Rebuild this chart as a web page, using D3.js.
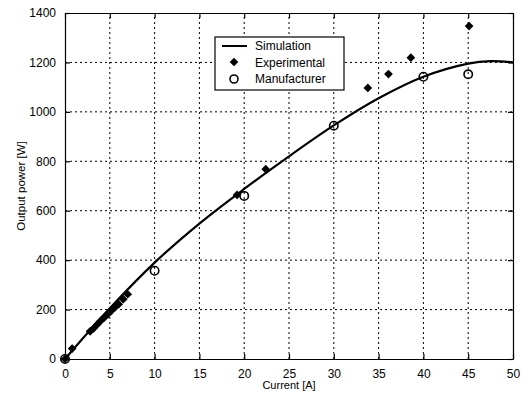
<!DOCTYPE html>
<html>
<head>
<meta charset="utf-8">
<script src="https://cdn.jsdelivr.net/npm/d3@7"></script>
<style>
	body { margin: 0; background: #fff; }
	text { font-family: 'Liberation Sans', Arial, sans-serif; fill: #000; }
	.grid line { stroke: #000; stroke-width: 1; stroke-dasharray: 2 3; }
</style>
</head>
<body>
<script>
const xTicks = [0, 5, 10, 15, 20, 25, 30, 35, 40, 45, 50]
const yTicks = [0, 200, 400, 600, 800, 1000, 1200, 1400]

// simulation curve
const simCurrent = [0, 5, 10, 15, 20, 25, 30, 35, 40, 45, 47.5, 50]
const simPower   = [0, 205, 390, 548, 688, 820, 945, 1055, 1142, 1195, 1205, 1200]

const expCurrent = [0, 0.8, 2.8, 3.2, 3.6, 4.0, 4.4, 4.8, 5.2, 5.6, 6.0, 6.5, 7.0, 19.2, 22.4, 33.8, 36.1, 38.6, 45.1]
const expPower   = [0, 42, 112, 124, 140, 155, 168, 182, 196, 210, 222, 242, 262, 664, 768, 1097, 1153, 1219, 1347]

const manCurrent = [0, 10, 20, 30, 40, 45]
const manPower   = [0, 357, 660, 944, 1142, 1152]

const W = 530, H = 398
const m = {top: 13, right: 17, bottom: 39, left: 65}

const svg = d3.select('body').append('svg')
	.attr('width', W)
	.attr('height', H)

const x = d3.scaleLinear().domain([0, 50]).range([m.left, W - m.right])
const y = d3.scaleLinear().domain([0, 1400]).range([H - m.bottom, m.top])

// grid
const grid = svg.append('g').attr('class', 'grid')
grid.selectAll('line.v')
	.data(xTicks.slice(1, -1))
	.enter().append('line')
	.attr('x1', d => x(d)).attr('x2', d => x(d))
	.attr('y1', y(0)).attr('y2', y(1400))
grid.selectAll('line.h')
	.data(yTicks.slice(1, -1))
	.enter().append('line')
	.attr('y1', d => y(d)).attr('y2', d => y(d))
	.attr('x1', x(0)).attr('x2', x(50))

// axes, ticks pointing inward
const fmt = d3.format('d')
const axes = [
	[d3.axisBottom(x), `translate(0,${y(0)})`],
	[d3.axisTop(x), `translate(0,${y(1400)})`],
	[d3.axisLeft(y), `translate(${x(0)},0)`],
	[d3.axisRight(y), `translate(${x(50)},0)`]
]
axes.forEach(([ax, tr], i) => {
	const isX = i < 2
	ax.tickValues(isX ? xTicks : yTicks)
		.tickSizeInner(-5)
		.tickSizeOuter(0)
		.tickPadding(i == 0 ? 10 : (i == 2 ? 9 : 0))
		.tickFormat(i == 0 || i == 2 ? fmt : '')
	const g = svg.append('g').attr('transform', tr).call(ax)
	g.selectAll('path.domain').attr('stroke', '#000').attr('stroke-width', 1.2)
	g.selectAll('.tick line').attr('stroke', '#000').attr('stroke-width', 1.2)
	g.selectAll('text')
		.style('font-size', '12px')
		.style('font-family', "'Liberation Sans', Arial, sans-serif")
		.attr('fill', '#000')
})

// axis titles
svg.append('text')
	.attr('x', (x(0) + x(50)) / 2)
	.attr('y', 389)
	.attr('text-anchor', 'middle')
	.style('font-size', '11px')
	.text('Current [A]')

svg.append('text')
	.attr('transform', `translate(25,${(y(0) + y(1400)) / 2}) rotate(-90)`)
	.attr('text-anchor', 'middle')
	.style('font-size', '11.5px')
	.text('Output power [W]')

// simulation line
const line = d3.line()
	.x(d => x(d[0]))
	.y(d => y(d[1]))
	.curve(d3.curveCatmullRom)

svg.append('path')
	.datum(d3.zip(simCurrent, simPower))
	.attr('d', line)
	.attr('fill', 'none')
	.attr('stroke', '#000')
	.attr('stroke-width', 2.2)

// markers: filled square turned 45 degrees
const diamond = d3.symbol().type(d3.symbolSquare).size(38)

svg.append('g').selectAll('path')
	.data(d3.zip(expCurrent, expPower))
	.enter().append('path')
	.attr('d', diamond)
	.attr('transform', d => `translate(${x(d[0])},${y(d[1])}) rotate(45)`)
	.attr('fill', '#000')

svg.append('g').selectAll('circle')
	.data(d3.zip(manCurrent, manPower))
	.enter().append('circle')
	.attr('cx', d => x(d[0]))
	.attr('cy', d => y(d[1]))
	.attr('r', 4.2)
	.attr('fill', 'none')
	.attr('stroke', '#000')
	.attr('stroke-width', 1.6)

// legend
const leg = svg.append('g').attr('transform', 'translate(215,37)')
leg.append('rect')
	.attr('width', 129).attr('height', 53)
	.attr('fill', '#fff')
	.attr('stroke', '#000')
	.attr('stroke-width', 1.2)

leg.append('line')
	.attr('x1', 7).attr('x2', 32)
	.attr('y1', 9).attr('y2', 9)
	.attr('stroke', '#000').attr('stroke-width', 2)
leg.append('path')
	.attr('d', diamond)
	.attr('transform', 'translate(19,25) rotate(45)')
leg.append('circle')
	.attr('cx', 19).attr('cy', 42).attr('r', 4)
	.attr('fill', 'none').attr('stroke', '#000').attr('stroke-width', 1.6)

const labels = ['Simulation', 'Experimental', 'Manufacturer']
leg.selectAll('text.l')
	.data(labels)
	.enter().append('text')
	.attr('x', 40)
	.attr('y', (d, i) => 13 + i * 16.5)
	.style('font-size', '12px')
	.text(d => d)
</script>
</body>
</html>
